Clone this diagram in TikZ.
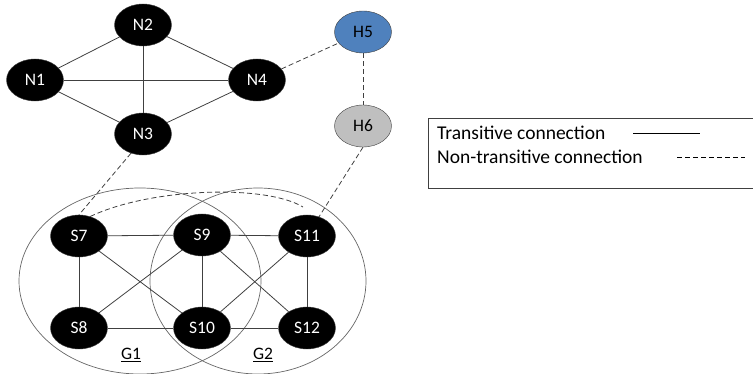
\documentclass[tikz,border=0pt]{standalone}
\usepackage{fontspec}
\setmainfont{Carlito}
\usetikzlibrary{shapes.geometric}
\definecolor{hblue}{HTML}{4F81BD}
\definecolor{hgray}{HTML}{BFBFBF}
\definecolor{edge}{HTML}{404040}
\tikzset{
	host/.style={ellipse, draw=edge, fill=black, text=white, minimum width=57pt, minimum height=42pt, inner sep=0pt, font=\fontsize{17.5}{17.5}\selectfont},
	trans/.style={draw=edge, line width=0.8pt},
	nontrans/.style={draw=edge, line width=0.8pt, dash pattern=on 5pt off 3pt},
	group/.style={draw=edge!80, line width=0.7pt}
}
\begin{document}
\begin{tikzpicture}[x=1pt, y=-1pt]
	\useasboundingbox (0,0) rectangle (753,374);
	
	% groups
	\draw [group] (140,281) ellipse (121 and 93);
	\draw [group] (258,281) ellipse (108 and 93);
	\node (g1) at (131,355) {\fontsize{17.5}{17.5}\selectfont\underline{G1}};
	\node (g2) at (263,355) {\fontsize{17.5}{17.5}\selectfont\underline{G2}};
	
	% upper hosts
	\node [host] (N2) at (143,25) {N2};
	\node [host] (N1) at (35,80) {N1};
	\node [host] (N4) at (257,80) {N4};
	\node [host] (N3) at (143,134) {N3};
	\node [host, fill=hblue, text=black] (H5) at (363,32) {H5};
	\node [host, fill=hgray, text=black] (H6) at (363,126) {H6};
	
	% lower hosts
	\node [host] (S7) at (79,236) {S7};
	\node [host] (S9) at (202,235) {S9};
	\node [host] (S11) at (307,236) {S11};
	\node [host] (S8) at (79,328) {S8};
	\node [host] (S10) at (202,328) {S10};
	\node [host] (S12) at (307,328) {S12};
	
	% transitive
	\draw [trans] (N1) -- (N2);
	\draw [trans] (N1) -- (N4);
	\draw [trans] (N1) -- (N3);
	\draw [trans] (N2) -- (N4);
	\draw [trans] (N2) -- (N3);
	\draw [trans] (N3) -- (N4);
	
	\draw [trans] (S7) -- (S9);
	\draw [trans] (S9) -- (S11);
	\draw [trans] (S7) -- (S8);
	\draw [trans] (S9) -- (S10);
	\draw [trans] (S11) -- (S12);
	\draw [trans] (S8) -- (S10);
	\draw [trans] (S10) -- (S12);
	\draw [trans] (S7) -- (S10);
	\draw [trans] (S9) -- (S8);
	\draw [trans] (S9) -- (S12);
	\draw [trans] (S11) -- (S10);
	
	% non-transitive
	\draw [nontrans] (N4) -- (H5);
	\draw [nontrans] (H5) -- (H6);
	\draw [nontrans] (N3.238) -- (S7.north);
	\draw [nontrans] (H6.south) -- (S11.58);
	\coordinate (arcend) at (303,207);
	\draw [nontrans] (S7.60) .. controls (150,188) and (265,184) .. (arcend);
	
	% legend
	\draw [line width=0.8pt, draw=edge] (428,118) rectangle (770,188);
	\node [anchor=west, font=\fontsize{19.5}{19.5}\selectfont, inner sep=0pt] (lt) at (437,133) {Transitive connection};
	\node [anchor=west, font=\fontsize{19.5}{19.5}\selectfont, inner sep=0pt] (ln) at (437,157) {Non-transitive connection};
	\coordinate (lta) at (633,133);
	\coordinate (ltb) at (700,133);
	\coordinate (lna) at (677,157);
	\coordinate (lnb) at (745,157);
	\draw [trans, draw=black] (lta) -- (ltb);
	\draw [nontrans, draw=black] (lna) -- (lnb);
\end{tikzpicture}
\end{document}
